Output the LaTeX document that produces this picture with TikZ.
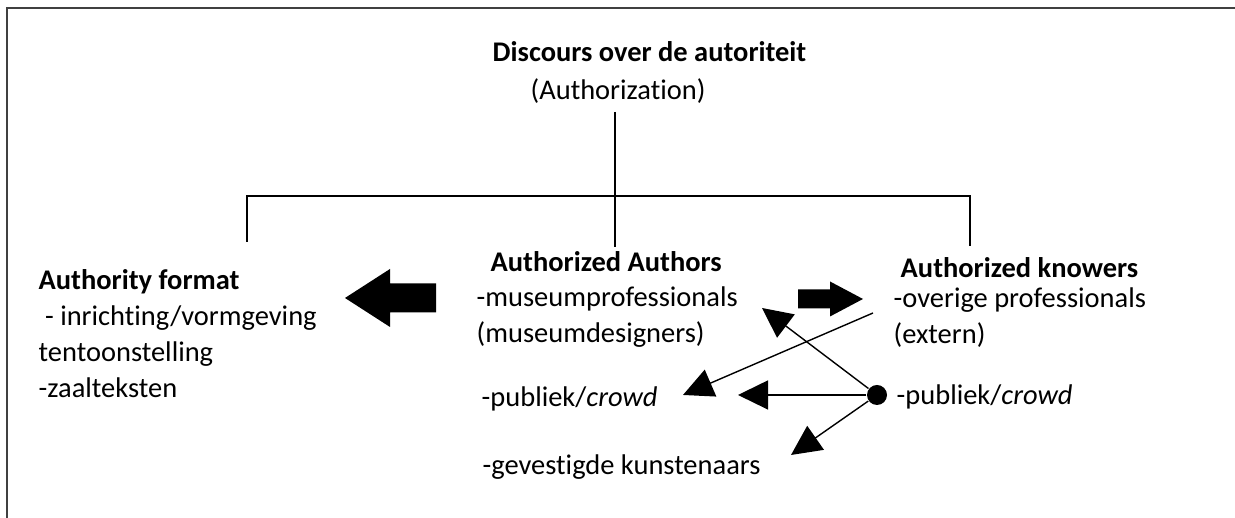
\documentclass[tikz,border=0pt]{standalone}
\usepackage{fontspec}
\setmainfont{Carlito}[Ligatures=NoCommon]
\usetikzlibrary{arrows.meta,positioning}

\begin{document}
\begin{tikzpicture}[
    font=\fontsize{8.1}{10.25}\selectfont,
    txt/.style={inner sep=0, anchor=base west, align=left},
    tree/.style={line width=0.6pt},
    link/.style={line width=0.4pt, -{Triangle[length=0.3cm,width=0.29cm]}},
  ]
  \useasboundingbox (0,0) rectangle (12.35,5.18);
  % frame, only top and left edge show
  \draw[line width=0.02cm, black!75] (12.35,5.10) -- (0.07,5.10) -- (0.07,0);

  % texts (base of a block = base of its last line)
  \node[txt] (title) at (4.92,4.56) {\textbf{Discours over de autoriteit}};
  \node[txt] (sub) at (5.30,4.18) {(Authorization)};

  \node[txt] (format) at (0.38,1.20) {\textbf{Authority format}\\ \ - inrichting/vormgeving\\tentoonstelling\\-zaalteksten};

  \node[txt] (authors) at (4.90,2.46) {\textbf{Authorized Authors}};
  \node[txt] (museum) at (4.76,1.75) {-museumprofessionals\\(museumdesigners)};
  \node[txt] (publiekL) at (4.81,1.11) {-publiek/\textit{crowd}};
  \node[txt] (kunst) at (4.82,0.43) {-gevestigde kunstenaars};

  \node[txt] (knowers) at (9.00,2.40) {\textbf{Authorized knowers}};
  \node[txt] (overige) at (8.93,1.74) {-overige professionals\\(extern)};
  \node[txt] (publiekR) at (8.96,1.13) {-publiek/\textit{crowd}};

  % tree
  \coordinate (stem) at (6.15,4.06);
  \coordinate (fork) at (6.15,3.22);
  \coordinate (lfoot) at (2.47,2.76);
  \coordinate (cfoot) at (6.15,2.71);
  \coordinate (rfoot) at (9.70,2.72);
  \draw[tree] (stem) -- (cfoot);
  \draw[tree] (lfoot) |- (fork) -| (rfoot);

  % block arrows
  \fill (4.36,2.345) -- (3.90,2.345) -- (3.90,2.49) -- (3.45,2.20)
    -- (3.90,1.91) -- (3.90,2.055) -- (4.36,2.055) -- cycle;
  \fill (7.98,2.285) -- (8.30,2.285) -- (8.30,2.365) -- (8.63,2.19)
    -- (8.30,2.015) -- (8.30,2.095) -- (7.98,2.095) -- cycle;

  % crowd links
  \node [inner sep=0, circle, fill, minimum size=0.2cm] (dot) at (8.77,1.23) {};
  \coordinate (tipL) at (7.38,1.23);
  \coordinate (tipUp) at (7.62,2.10);
  \coordinate (tipDown) at (7.91,0.63);
  \coordinate (start) at (8.73,2.05);
  \coordinate (tipC) at (6.83,1.23);

  \draw[link] (dot) -- (tipL);
  \draw[link] (dot) -- (tipUp);
  \draw[link] (dot) -- (tipDown);
  \draw[link] (start) -- (tipC);
\end{tikzpicture}
\end{document}
